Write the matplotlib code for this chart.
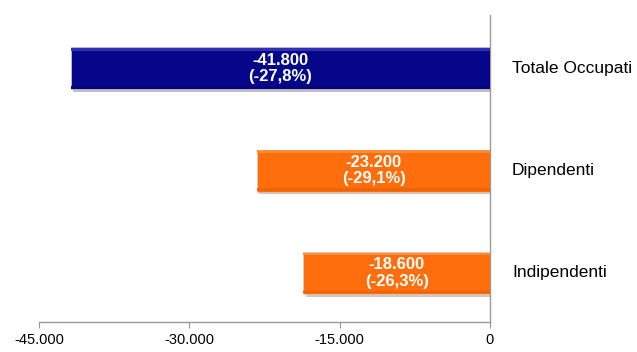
import matplotlib
matplotlib.use("Agg")
import matplotlib.pyplot as plt
import matplotlib.patheffects as pe

categories = ["Totale Occupati", "Dipendenti", "Indipendenti"]
values = [-41800, -23200, -18600]
pct_labels = ["(-27,8%)", "(-29,1%)", "(-26,3%)"]
bar_colors = ["#06068A", "#FF6E0C", "#FF6E0C"]
bevel_light = ["#3030B4", "#FF8C36", "#FF8C36"]
bevel_dark = ["#05057A", "#F06406", "#F06406"]
xticks = [-45000, -30000, -15000, 0]
xtick_labels = ["-45.000", "-30.000", "-15.000", "0"]

plt.rcParams["font.family"] = ["Liberation Sans", "DejaVu Sans"]

fig = plt.figure(figsize=(6.37, 3.52), dpi=100)
ax = fig.add_axes([0.061, 0.085, 0.708, 0.872])

ypos = list(range(len(categories)))
bar_h = 0.41
bars = ax.barh(ypos, values, height=bar_h, color=bar_colors,
               edgecolor="#d0d0d0", linewidth=0.5, zorder=3)
for b in bars:
    b.set_path_effects([pe.SimplePatchShadow(offset=(1.5, -2), alpha=0.25),
                        pe.Normal()])

# bevel: soft light band along the top edge, slightly darker band at the bottom
band = 0.025
ax.barh([y - bar_h / 2 + band / 2 + 0.006 for y in ypos], values, height=band,
        color=bevel_light, linewidth=0, zorder=3.5)
ax.barh([y + bar_h / 2 - band / 2 - 0.006 for y in ypos], values, height=band,
        color=bevel_dark, linewidth=0, zorder=3.5)

def fmt_thousands(v):
    s = f"{abs(v):,}".replace(",", ".")
    return ("-" if v < 0 else "") + s

for y, v, p in zip(ypos, values, pct_labels):
    ax.text(v / 2, y, f"{fmt_thousands(v)}\n{p}", ha="center", va="center",
            color="white", fontsize=12, fontweight="bold", linespacing=1.1,
            zorder=4)

# category names to the right of the zero line
for y, c in zip(ypos, categories):
    ax.annotate(c, xy=(1.0, y), xycoords=("axes fraction", "data"),
                xytext=(16, 0), textcoords="offset points",
                ha="left", va="center", fontsize=12.5, color="black")

ax.set_xlim(-45000, 0)
ax.set_ylim(2.48, -0.52)
ax.set_xticks(xticks)
ax.set_xticklabels(xtick_labels, fontsize=10.5)
ax.set_yticks([])

for side in ["top", "left"]:
    ax.spines[side].set_visible(False)
for side in ["right", "bottom"]:
    ax.spines[side].set_color("#999999")
    ax.spines[side].set_linewidth(1.0)
ax.tick_params(axis="x", direction="out", length=4, color="#999999", pad=4)

fig.savefig("out.png", dpi=100)
